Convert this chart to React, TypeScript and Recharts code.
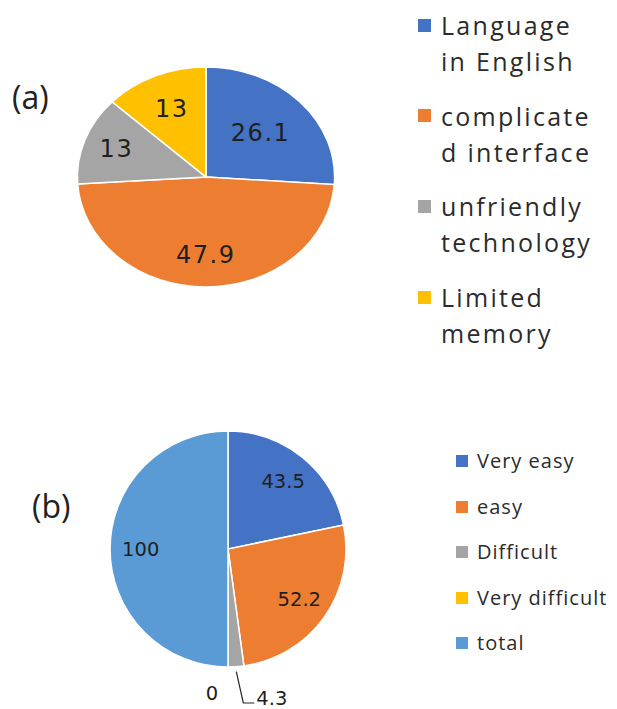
import React from "react";
import { PieChart, Pie, Cell, Sector, Legend } from "recharts";

// ---- data (a) ----
const catsA = ["Language in English", "complicated interface", "unfriendly technology", "Limited memory"];
const valsA = [26.1, 47.9, 13, 13];
const legendLinesA = [
  ["Language", "in English"],
  ["complicate", "d interface"],
  ["unfriendly", "technology"],
  ["Limited", "memory"],
];
const colorsA = ["#4472C4", "#ED7D31", "#A5A5A5", "#FFC000"];

// ---- data (b) ----
const catsB = ["Very easy", "easy", "Difficult", "Very difficult", "total"];
const valsB = [43.5, 52.2, 4.3, 0, 100];
const colorsB = ["#4472C4", "#ED7D31", "#A5A5A5", "#FFC000", "#5B9BD5"];

const dataA = catsA.map((name, i) => ({ name, value: valsA[i], fill: colorsA[i] }));
const dataB = catsB.map((name, i) => ({ name, value: valsB[i], fill: colorsB[i] }));

if (typeof document !== "undefined") {
  document.documentElement.style.overflow = "hidden";
  document.body.style.overflow = "hidden";
}

const RAD = Math.PI / 180;
const STRETCH = 1.17;
const TOP_LABEL_RADII = [0.58, 0.71, 0.74, 0.67];
const LABEL_COLOR = "#1f1f1f";

const stretchedShape = (props: any) => {
  const { cx, cy } = props;
  return (
    <g transform={`translate(${cx} ${cy}) scale(${STRETCH} 1) translate(${-cx} ${-cy})`}>
      <Sector {...props} />
    </g>
  );
};

const renderTopLabel = (p: any) => {
  const { cx, cy, midAngle, outerRadius, index, value } = p;
  const R = outerRadius * TOP_LABEL_RADII[index];
  const x = cx + STRETCH * R * Math.cos(-midAngle * RAD);
  const y = cy + R * Math.sin(-midAngle * RAD);
  return (
    <text
      x={x}
      y={y}
      textAnchor="middle"
      dominantBaseline="central"
      fill={LABEL_COLOR}
      style={{ fontFamily: "DejaVu Sans", fontSize: 24, letterSpacing: 1.5 }}
    >
      {value}
    </text>
  );
};

const renderBottomLabel = (p: any) => {
  const { cx, cy, midAngle, outerRadius, value, percent } = p;
  const c = Math.cos(-midAngle * RAD);
  const s = Math.sin(-midAngle * RAD);
  const font = { fontFamily: "DejaVu Sans", fontSize: 19.5 };
  if (value === 0) {
    const x = cx + (outerRadius + 26) * c - 16;
    return (
      <text x={x} y={cy + outerRadius + 26} textAnchor="middle" dominantBaseline="central" fill={LABEL_COLOR} style={font}>
        {value}
      </text>
    );
  }
  if (percent < 0.05) {
    const sx = cx + (outerRadius + 5) * c;
    const sy = cy + (outerRadius + 5) * s;
    const ex = sx + 7;
    const ey = cy + outerRadius + 36;
    const fx = ex + 11;
    return (
      <g>
        <polyline points={`${sx},${sy} ${ex},${ey} ${fx},${ey}`} fill="none" stroke="#262626" strokeWidth={1.2} />
        <text x={fx + 2} y={ey + 2} textAnchor="start" fill={LABEL_COLOR} style={font}>
          {value}
        </text>
      </g>
    );
  }
  const R = outerRadius * 0.74;
  return (
    <text
      x={cx + R * c}
      y={cy + R * s}
      textAnchor="middle"
      dominantBaseline="central"
      fill={LABEL_COLOR}
      style={font}
    >
      {value}
    </text>
  );
};

const LegendA = () => {
  return (
    <div style={{ position: "relative", width: 190, height: 340 }}>
      {legendLinesA.map((lines, i) => {
        const center = 17 + 90.7 * i;
        return (
          <div key={i}>
            <div
              style={{
                position: "absolute",
                left: 0,
                top: center - 6.5,
                width: 13,
                height: 13,
                background: colorsA[i],
              }}
            />
            <div
              style={{
                position: "absolute",
                left: 23,
                top: center - 18,
                fontFamily: "Open Sans",
                fontSize: 25,
                letterSpacing: 2.3,
                lineHeight: "36px",
                color: "#2b2b2b",
                whiteSpace: "nowrap",
              }}
            >
              {lines.map((l, j) => (
                <div key={j}>{l}</div>
              ))}
            </div>
          </div>
        );
      })}
    </div>
  );
};

const LegendB = () => {
  return (
    <div style={{ position: "relative", width: 160, height: 260 }}>
      {catsB.map((name, i) => {
        const center = 81 + 45.5 * i;
        return (
          <div key={i}>
            <div
              style={{
                position: "absolute",
                left: 0,
                top: center - 6,
                width: 12,
                height: 12,
                background: colorsB[i],
              }}
            />
            <div
              style={{
                position: "absolute",
                left: 21,
                top: center - 15,
                fontFamily: "Open Sans",
                fontSize: 20,
                letterSpacing: 1,
                lineHeight: "30px",
                color: "#2b2b2b",
                whiteSpace: "nowrap",
              }}
            >
              {name}
            </div>
          </div>
        );
      })}
    </div>
  );
};

export default function App() {
  return (
    <div style={{ position: "relative", width: 601, height: 701, background: "#fff" }}>
      <div
        style={{
          position: "absolute",
          left: 4,
          top: 73,
          fontFamily: "Open Sans",
          fontSize: 32,
          lineHeight: "32px",
          color: "#222",
        }}
      >
        (a)
      </div>
      <div
        style={{
          position: "absolute",
          left: 24,
          top: 482,
          fontFamily: "Open Sans",
          fontSize: 32,
          lineHeight: "32px",
          color: "#222",
        }}
      >
        (b)
      </div>

      <div style={{ position: "absolute", left: 0, top: 0 }}>
        <PieChart width={601} height={360} margin={{ top: 0, right: 0, bottom: 0, left: 0 }}>
          <Pie
            data={dataA}
            dataKey="value"
            nameKey="name"
            cx={198}
            cy={169}
            outerRadius={110}
            startAngle={90}
            endAngle={-270}
            stroke="#fff"
            strokeWidth={1.5}
            shape={stretchedShape}
            label={renderTopLabel}
            labelLine={false}
            isAnimationActive={false}
          >
            {dataA.map((d, i) => (
              <Cell key={i} fill={d.fill} />
            ))}
          </Pie>
          <Legend
            layout="vertical"
            align="right"
            verticalAlign="top"
            content={<LegendA />}
            wrapperStyle={{ position: "absolute", left: 410, top: 0, width: 190 }}
          />
        </PieChart>
      </div>

      <div style={{ position: "absolute", left: 0, top: 372 }}>
        <PieChart width={601} height={329} margin={{ top: 0, right: 0, bottom: 0, left: 0 }}>
          <Pie
            data={dataB}
            dataKey="value"
            nameKey="name"
            cx={220}
            cy={169}
            outerRadius={118}
            startAngle={90}
            endAngle={-270}
            stroke="#fff"
            strokeWidth={1.5}
            label={renderBottomLabel}
            labelLine={false}
            isAnimationActive={false}
          >
            {dataB.map((d, i) => (
              <Cell key={i} fill={d.fill} />
            ))}
          </Pie>
          <Legend
            layout="vertical"
            align="right"
            verticalAlign="top"
            content={<LegendB />}
            wrapperStyle={{ position: "absolute", left: 448, top: 0, width: 160 }}
          />
        </PieChart>
      </div>
    </div>
  );
}
